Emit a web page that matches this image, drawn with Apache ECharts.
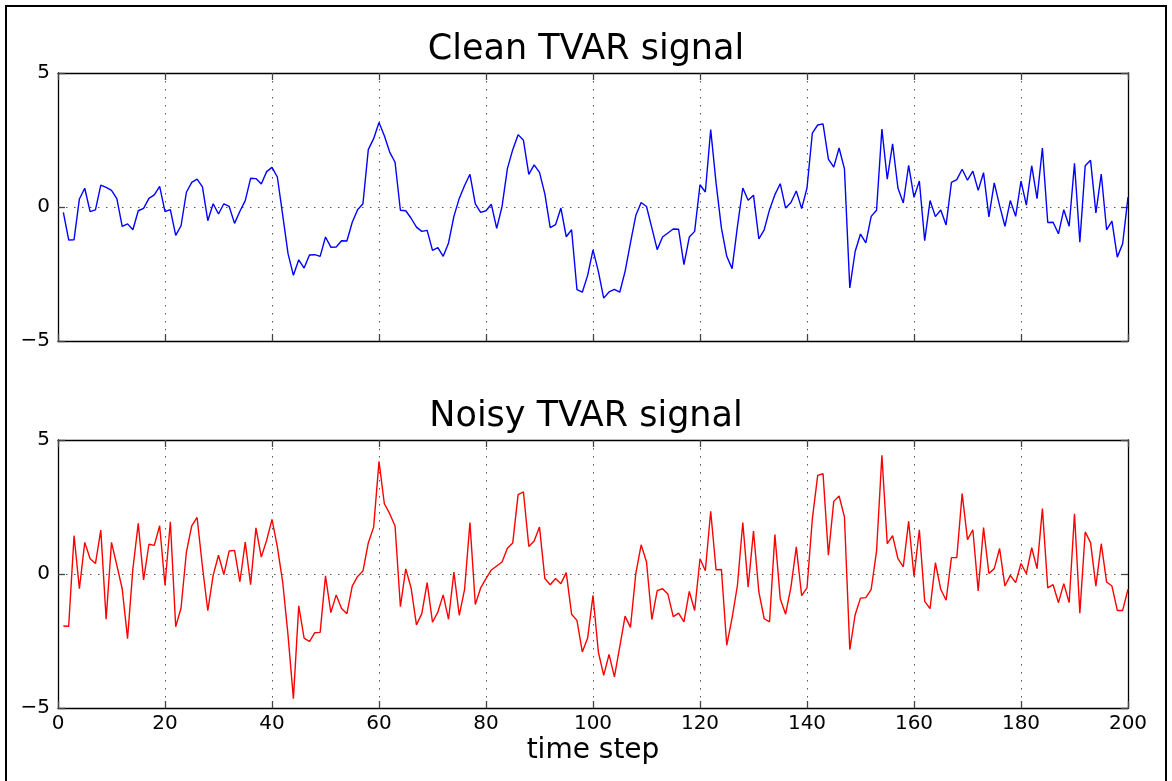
<!DOCTYPE html>
<html>
<head>
<meta charset="utf-8">
<script src="https://cdn.jsdelivr.net/npm/echarts@6/dist/echarts.min.js"></script>
<style>
html,body{margin:0;padding:0;background:#fff;}
#chart{width:1172px;height:781px;}
</style>
</head>
<body>
<div id="chart"></div>
<script>
const xTicks = [0, 20, 40, 60, 80, 100, 120, 140, 160, 180, 200];
const yTicks = [-5, 0, 5];
const titles = ['Clean TVAR signal', 'Noisy TVAR signal'];
const xLabel = 'time step';

const clean = [
-0.2,-1.23,-1.22,0.3,0.7,-0.17,-0.11,0.82,0.73,0.62,
0.31,-0.72,-0.63,-0.85,-0.14,-0.05,0.32,0.45,0.77,-0.17,
-0.1,-1.06,-0.7,0.55,0.92,1.04,0.75,-0.51,0.12,-0.26,
0.12,0.02,-0.61,-0.16,0.24,1.07,1.06,0.86,1.32,1.48,
1.12,-0.3,-1.74,-2.55,-1.97,-2.28,-1.79,-1.78,-1.84,-1.12,
-1.5,-1.49,-1.26,-1.27,-0.57,-0.1,0.12,2.14,2.55,3.15,
2.66,2.05,1.67,-0.12,-0.14,-0.42,-0.75,-0.91,-0.87,-1.62,
-1.52,-1.84,-1.34,-0.35,0.32,0.8,1.22,0.12,-0.2,-0.14,
0.1,-0.8,0.02,1.43,2.14,2.7,2.49,1.22,1.57,1.29,
0.49,-0.77,-0.66,-0.04,-1.11,-0.85,-3.08,-3.18,-2.55,-1.6,
-2.4,-3.4,-3.17,-3.07,-3.18,-2.4,-1.34,-0.32,0.17,0.02,
-0.78,-1.59,-1.12,-0.97,-0.82,-0.83,-2.15,-1.12,-0.91,0.83,
0.56,2.89,0.9,-0.78,-1.84,-2.3,-0.72,0.71,0.25,0.44,
-1.19,-0.85,-0.1,0.46,0.87,-0.04,0.17,0.6,-0.06,0.71,
2.76,3.06,3.1,1.79,1.49,2.2,1.42,-3.02,-1.66,-1.01,
-1.34,-0.35,-0.12,2.91,1.04,2.36,0.71,0.15,1.55,0.36,
0.97,-1.26,0.24,-0.36,-0.11,-0.67,0.92,1.02,1.41,1.0,
1.34,0.62,1.28,-0.37,0.9,0.05,-0.72,0.24,-0.35,0.97,
0.07,1.54,0.31,2.2,-0.58,-0.57,-1.0,-0.1,-0.72,1.63,
-1.31,1.54,1.74,-0.22,1.23,-0.85,-0.53,-1.87,-1.37,0.37
];

const noisy = [
-1.94,-1.95,1.43,-0.55,1.18,0.57,0.39,1.64,-1.69,1.18,
0.32,-0.55,-2.41,0.2,1.89,-0.22,1.11,1.07,1.8,-0.42,
1.95,-1.97,-1.27,0.82,1.8,2.11,0.27,-1.37,-0.05,0.7,
-0.02,0.86,0.88,-0.29,1.19,-0.4,1.72,0.63,1.26,2.04,
1.01,-0.3,-2.29,-4.65,-1.19,-2.39,-2.52,-2.19,-2.18,-0.07,
-1.44,-0.78,-1.29,-1.48,-0.45,-0.09,0.11,1.16,1.75,4.2,
2.62,2.25,1.79,-1.22,0.19,-0.52,-1.9,-1.48,-0.32,-1.8,
-1.42,-0.78,-1.69,0.07,-1.54,-0.57,1.92,-1.14,-0.52,-0.17,
0.15,0.3,0.45,0.96,1.16,2.96,3.06,1.03,1.23,1.75,
-0.17,-0.4,-0.17,-0.36,0.05,-1.5,-1.73,-2.91,-2.39,-0.8,
-2.91,-3.78,-3.0,-3.84,-2.72,-1.57,-1.99,0.01,1.09,0.45,
-1.7,-0.62,-0.55,-0.75,-1.59,-1.46,-1.79,-0.65,-1.36,0.57,
0.12,2.34,0.16,0.17,-2.66,-1.64,-0.42,1.92,-0.49,1.6,
-0.67,-1.67,-1.79,1.47,-0.92,-1.5,-0.49,1.01,-0.81,-0.52,
2.06,3.68,3.74,0.7,2.71,2.91,2.13,-2.82,-1.52,-0.9,
-0.88,-0.57,0.85,4.43,1.13,1.43,0.57,0.27,1.97,-0.09,
1.65,-1.02,-1.29,0.42,-0.57,-0.98,0.61,0.61,3.0,1.28,
1.65,-0.63,1.73,0.02,0.2,0.95,-0.45,-0.05,-0.32,0.39,
0.01,0.98,0.2,2.44,-0.52,-0.4,-1.07,-0.36,-1.07,2.25,
-1.46,1.57,1.17,-0.45,1.13,-0.3,-0.45,-1.36,-1.36,-0.57
];

const FONT = 'DejaVu Sans';
const toPairs = arr => arr.map((v, i) => [i + 1, v]);
const fmtY = v => String(v).replace('-', '\u2212');

const dotted = { show: true, lineStyle: { color: '#555', width: 1, type: [1.5, 6.5] } };
const frameLine = { show: true, onZero: false, lineStyle: { color: '#000', width: 1.3 } };
const tickIn = { show: true, inside: true, length: 7, lineStyle: { color: '#444', width: 1.3 } };

function xAx(grid, pos, labels, split, name) {
  return {
    type: 'value', gridIndex: grid, position: pos,
    min: xTicks[0], max: xTicks[xTicks.length - 1], interval: xTicks[1] - xTicks[0],
    axisLine: frameLine, axisTick: tickIn,
    axisLabel: { show: labels, color: '#000', fontFamily: FONT, fontSize: 20, margin: 6 },
    splitLine: split ? dotted : { show: false },
    name: name || '', nameLocation: 'middle', nameGap: 29,
    nameTextStyle: { color: '#000', fontFamily: FONT, fontSize: 28 }
  };
}
function yAx(grid, pos, labels, split) {
  return {
    type: 'value', gridIndex: grid, position: pos,
    min: yTicks[0], max: yTicks[yTicks.length - 1], interval: yTicks[1] - yTicks[0],
    axisLine: frameLine, axisTick: tickIn,
    axisLabel: { show: labels, color: '#000', fontFamily: FONT, fontSize: 20, margin: 8, formatter: fmtY },
    splitLine: split ? dotted : { show: false }
  };
}

const chart = echarts.init(document.getElementById('chart'), null, { renderer: 'canvas' });
chart.setOption({
  animation: false,
  backgroundColor: '#fff',
  title: [
    { text: titles[0], left: 'center', top: 27, textStyle: { fontFamily: FONT, fontSize: 35, fontWeight: 'normal', color: '#000' } },
    { text: titles[1], left: 'center', top: 394, textStyle: { fontFamily: FONT, fontSize: 35, fontWeight: 'normal', color: '#000' } }
  ],
  graphic: [
    { type: 'rect', shape: { x: 6, y: 6, width: 1160, height: 800 }, style: { fill: 'none', stroke: '#000', lineWidth: 2 }, silent: true }
  ],
  grid: [
    { left: 58, right: 44, top: 73, height: 268, containLabel: false, outerBoundsMode: 'none' },
    { left: 58, right: 44, top: 440, height: 268, containLabel: false, outerBoundsMode: 'none' }
  ],
  xAxis: [
    xAx(0, 'bottom', false, true),
    xAx(0, 'top', false, false),
    xAx(1, 'bottom', true, true, xLabel),
    xAx(1, 'top', false, false)
  ],
  yAxis: [
    yAx(0, 'left', true, true),
    yAx(0, 'right', false, false),
    yAx(1, 'left', true, true),
    yAx(1, 'right', false, false)
  ],
  series: [
    { type: 'line', xAxisIndex: 0, yAxisIndex: 0, data: toPairs(clean), showSymbol: false, symbol: 'none',
      lineStyle: { color: '#0000ff', width: 1.4 }, itemStyle: { color: '#0000ff' }, z: 5 },
    { type: 'line', xAxisIndex: 2, yAxisIndex: 2, data: toPairs(noisy), showSymbol: false, symbol: 'none',
      lineStyle: { color: '#ff0000', width: 1.4 }, itemStyle: { color: '#ff0000' }, z: 5 }
  ]
});
</script>
</body>
</html>
